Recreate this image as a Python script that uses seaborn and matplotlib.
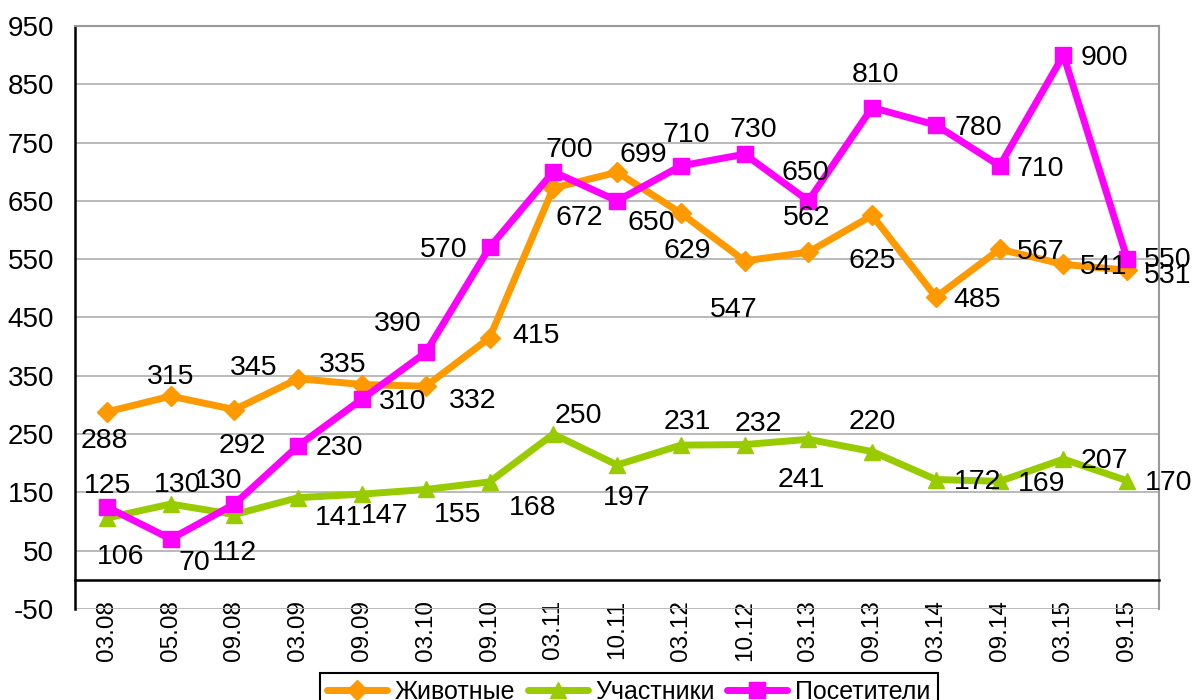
import matplotlib
matplotlib.use("Agg")
import matplotlib.pyplot as plt
import numpy as np
import seaborn as sns

dates = ["03.08", "05.08", "09.08", "03.09", "09.09", "03.10", "09.10", "03.11", "10.11",
         "03.12", "10.12", "03.13", "09.13", "03.14", "09.14", "03.15", "09.15"]
animals = [288, 315, 292, 345, 335, 332, 415, 672, 699, 629, 547, 562, 625, 485, 567, 541, 531]
participants = [106, 130, 112, 141, 147, 155, 168, 250, 197, 231, 232, 241, 220, 172, 169, 207, 170]
visitors = [125, 70, 130, 230, 310, 390, 570, 700, 650, 710, 730, 650, 810, 780, 710, 900, 550]

y_ticks = list(range(-50, 951, 100))

# label offsets in pixels (dx right, dy down), as placed in the original
animals_off = [(-3, 26), (0, -22), (8, 33), (-45, -14), (-19, -23), (47, 12), (47, -5), (26, 27),
               (26, -20), (6, 35), (-11, 46), (-2, -37), (0, 43), (41, 0), (41, 0), (40, 0), (40, 3)]
participants_off = [(14, 36), (7, -22), (0, 35), (40, 17), (23, 19), (32, 23), (43, 23), (25, -21),
                    (10, 30), (6, -26), (14, -24), (-7, 38), (0, -33), (42, -1), (42, 0), (41, -1), (41, -1)]
visitors_off = [(1, -24), (24, 21), (-16, -26), (41, -1), (41, 0), (-28, -31), (-46, 0), (16, -25),
                (34, 19), (5, -34), (9, -27), (-3, -31), (3, -36), (42, 0), (41, 0), (41, 0), (40, -2)]

sns.set_style("white")
plt.rcParams["font.family"] = ["Liberation Sans", "DejaVu Sans"]
plt.rcParams["axes.unicode_minus"] = False
plt.rcParams["text.color"] = "black"

fig, ax = plt.subplots(figsize=(11.95, 7), dpi=100)
fig.subplots_adjust(left=0.0628, right=0.970, top=0.963, bottom=0.130)

x = np.arange(len(dates))
series = [
    ("Животные", animals, animals_off, "#FF9900", "D", 10),
    ("Участники", participants, participants_off, "#99CC00", "^", 12),
    ("Посетители", visitors, visitors_off, "#FF00FF", "s", 11),
]

for name, vals, offs, color, marker, ms in series:
    sns.lineplot(x=x, y=vals, ax=ax, color=color, marker=marker, markersize=ms,
                 markeredgecolor=color, markeredgewidth=1, linewidth=5, label=name)
    for xi, v, (dx, dy) in zip(x, vals, offs):
        ax.annotate(str(v), (xi, v), xytext=(dx, -dy - 3), textcoords="offset pixels",
                    ha="center", va="center", fontsize=20.5, color="black")

ax.set_xlim(-0.5, len(dates) - 0.5)
ax.set_ylim(-50, 950)
ax.set_yticks(y_ticks)
ax.yaxis.grid(True, color="#b4b4b4", linewidth=1.3)
ax.set_axisbelow(True)

ax.spines["left"].set_color("black")
ax.spines["left"].set_linewidth(1.8)
ax.spines["bottom"].set_position(("data", 0))
ax.spines["bottom"].set_color("black")
ax.spines["bottom"].set_linewidth(1.8)
for s in ["top", "right"]:
    ax.spines[s].set_color("#999999")
    ax.spines[s].set_linewidth(1.5)

ax.set_xticks(x)
ax.set_xticklabels(dates, rotation=90)
ax.set_xticks(np.arange(-0.5, len(dates), 1), minor=True)
ax.tick_params(axis="x", which="major", length=0, pad=14.5, labelsize=17.5, labelcolor="black")
ax.tick_params(axis="x", which="minor", length=10, width=1.8, direction="out", color="black")
ax.tick_params(axis="y", length=10, width=1.8, direction="out", color="black", pad=5,
               labelsize=20, labelcolor="black")
ax.set_xlabel("")
ax.set_ylabel("")

handles, labels = ax.get_legend_handles_labels()
leg = ax.legend(handles, labels, loc="upper center", bbox_to_anchor=(0.526, 0.057),
                bbox_transform=fig.transFigure, ncol=3, fontsize=18, frameon=True,
                fancybox=False, edgecolor="black", framealpha=1, handlelength=2.4,
                columnspacing=0.5, handletextpad=0.3, borderpad=0.3, labelcolor="black")
leg.get_frame().set_linewidth(1.5)

fig.savefig("out.png", dpi=100)
